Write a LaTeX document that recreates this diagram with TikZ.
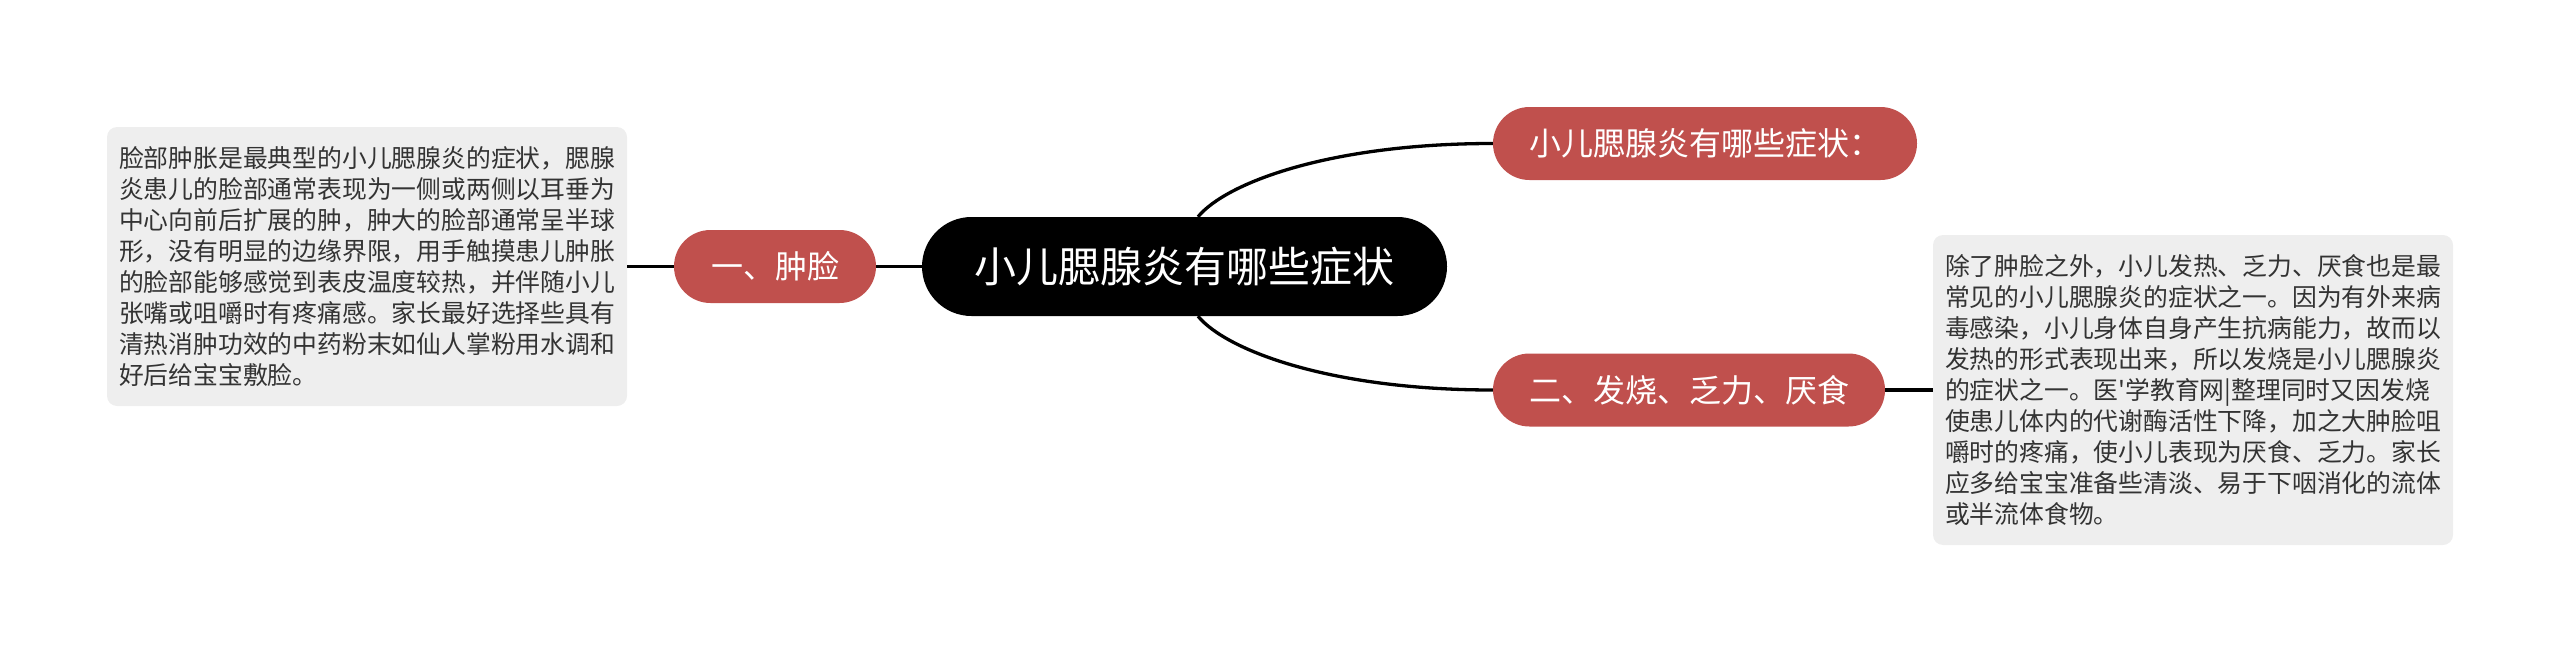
\documentclass[tikz,border=0pt]{standalone}
\usepackage{fontspec}
\newfontfamily\cjk{Noto Sans CJK SC}
\definecolor{nodered}{HTML}{C0504D}
\definecolor{boxgray}{HTML}{EEEEEE}
\definecolor{textgray}{HTML}{333333}
\begin{document}
\begin{tikzpicture}[x=1pt,y=-1pt,
  rootnode/.style={fill=black, text=white, rounded corners=49.5pt, minimum width=525pt, minimum height=99pt, inner sep=0pt, font=\cjk\fontsize{42}{50}\selectfont},
  topic/.style={fill=nodered, text=white, rounded corners=36.5pt, minimum height=73pt, inner sep=0pt, font=\cjk\fontsize{32}{38}\selectfont},
  note/.style={fill=boxgray, text=textgray, rounded corners=10pt, inner xsep=12pt, inner ysep=0pt, text width=496pt, align=left, font=\cjk\fontsize{24.8}{31}\selectfont},
  link/.style={draw=black, line width=3.3pt}
]
\useasboundingbox (0,0) rectangle (2560,653);
\node[rootnode] (root) at (1184.5,266.5) {小儿腮腺炎有哪些症状};
\node[topic, minimum width=202pt] (l1) at (775,266.5) {一、肿脸};
\node[topic, minimum width=424pt] (r1) at (1705,143.5) {小儿腮腺炎有哪些症状：};
\node[topic, minimum width=392pt] (r2) at (1689,390) {二、发烧、乏力、厌食};
\node[note, minimum height=279pt] (lt) at (367,266.5) {脸部肿胀是最典型的小儿腮腺炎的症状，腮腺\\
炎患儿的脸部通常表现为一侧或两侧以耳垂为\\
中心向前后扩展的肿，肿大的脸部通常呈半球\\
形，没有明显的边缘界限，用手触摸患儿肿胀\\
的脸部能够感觉到表皮温度较热，并伴随小儿\\
张嘴或咀嚼时有疼痛感。家长最好选择些具有\\
清热消肿功效的中药粉末如仙人掌粉用水调和\\
好后给宝宝敷脸。};
\node[note, minimum height=310pt] (rt) at (2193,390) {除了肿脸之外，小儿发热、乏力、厌食也是最\\
常见的小儿腮腺炎的症状之一。因为有外来病\\
毒感染，小儿身体自身产生抗病能力，故而以\\
发热的形式表现出来，所以发烧是小儿腮腺炎\\
的症状之一。医'学教育网|整理同时又因发烧\\
使患儿体内的代谢酶活性下降，加之大肿脸咀\\
嚼时的疼痛，使小儿表现为厌食、乏力。家长\\
应多给宝宝准备些清淡、易于下咽消化的流体\\
或半流体食物。};
\draw[link] (lt.east) -- (l1.west);
\draw[link] (l1.east) -- (root.west);
\draw[link] ([xshift=13.5pt]root.north) .. controls +(28,-34) and +(-163,0) .. (r1.west);
\draw[link] ([xshift=13.5pt]root.south) .. controls +(28,34) and +(-163,0) .. (r2.west);
\draw[link] (r2.east) -- (rt.west);
\end{tikzpicture}
\end{document}
